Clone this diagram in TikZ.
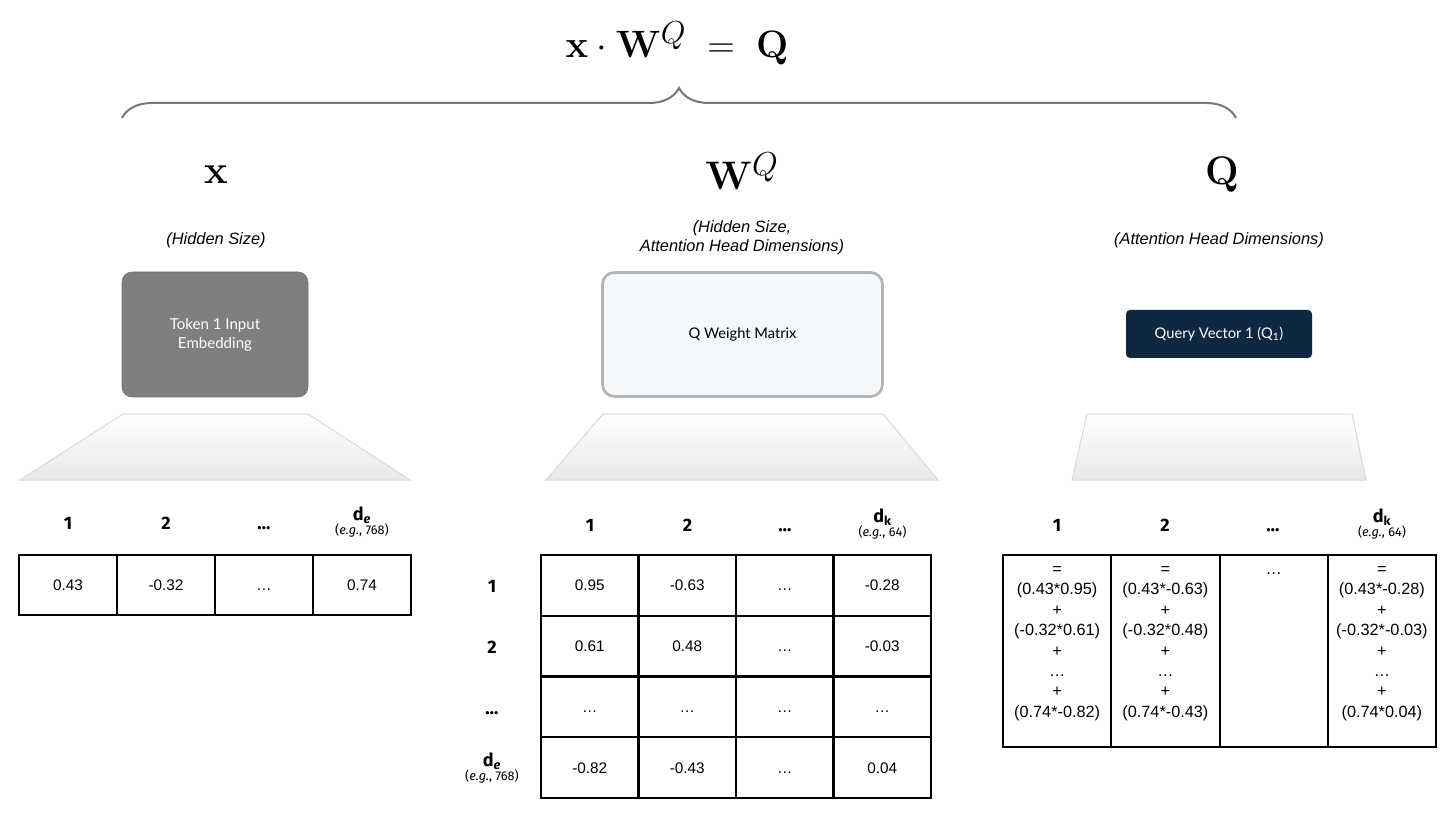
\documentclass[tikz,border=0pt]{standalone}
\usepackage{amsmath}
\usepackage[no-math]{fontspec}
\setmainfont{Liberation Sans}
\newfontfamily\latofont{Lato}
\newfontfamily\headfont{Fira Sans}
\usepackage{tikz}
\usetikzlibrary{positioning, calc, decorations.pathreplacing}
\definecolor{embgray}{HTML}{7F7F7F}
\definecolor{embedge}{HTML}{6F6F6F}
\definecolor{wqfill}{HTML}{F4F9FE}
\definecolor{wqedge}{HTML}{B4B4B4}
\definecolor{qnavy}{HTML}{0E2841}
\definecolor{trapedge}{HTML}{D9D9D9}
\definecolor{trapfill}{HTML}{E8E8E8}
\definecolor{bracegray}{HTML}{777777}
\newcommand{\dehead}{\textbf{d\textsubscript{\itshape e}}\\[-3pt]{\fontsize{9.5}{10}\selectfont(\textit{e.g.}, 768)}}
\newcommand{\dkhead}{\textbf{d\textsubscript{k}}\\[-3pt]{\fontsize{9.5}{10}\selectfont(\textit{e.g.}, 64)}}
\tikzset{
  eqn/.style={font=\Huge, inner sep=0pt},
  symb/.style={font=\Huge, inner sep=0pt},
  dims/.style={font=\fontsize{12.3}{14}\selectfont\itshape, align=center, inner sep=0pt},
  bracepath/.style={draw=bracegray, line width=1.5pt, decorate, decoration={brace, amplitude=22.5pt}},
  embbox/.style={draw=embedge, fill=embgray, rounded corners=7.5pt, minimum width=139.5pt, minimum height=93.75pt, text=white, align=center, font=\latofont\fontsize{11.3}{14.5}\selectfont},
  wqbox/.style={draw=wqedge, line width=2pt, fill=wqfill, rounded corners=9pt, minimum width=210pt, minimum height=93pt, align=center, font=\latofont\fontsize{11}{14}\selectfont},
  qbox/.style={fill=qnavy, rounded corners=3pt, minimum width=139.5pt, minimum height=36pt, text=white, font=\latofont\fontsize{11}{14}\selectfont},
  trap/.style={draw=trapedge, line width=0.75pt, top color=white, bottom color=trapfill},
  valcell/.style={draw, line width=1.5pt, inner sep=0pt, text height=8.2pt, text depth=0pt, font=\fontsize{11.5}{13}\selectfont},
  colhead/.style={font=\headfont\fontsize{13.5}{14}\selectfont, align=center, inner sep=0pt},
  sumtext/.style={font=\fontsize{12.2}{15.3}\selectfont, align=center, inner sep=0pt}
}

\begin{document}
\begin{tikzpicture}[x=0.75pt, y=-0.75pt]
  \useasboundingbox (0,0) rectangle (1456,816);

  % equation and brace
  \node[eqn] (eq) at (677,43) {\scalebox{1.15}{$\mathbf{x}\cdot\mathbf{W}^{Q}\;=\;\mathbf{Q}$}};
  \coordinate (brace-l) at (122,118);
  \coordinate (brace-r) at (1236,118);
  \draw[bracepath] (brace-l) -- (brace-r);

  % symbols and shapes
  \node[symb] (x-sym) at (216,175) {\scalebox{1.2}{$\mathbf{x}$}};
  \node[symb] (w-sym) at (742,171) {\scalebox{1.2}{$\mathbf{W}^{Q}$}};
  \node[symb] (q-sym) at (1222,175) {\scalebox{1.2}{$\mathbf{Q}$}};
  \node[dims] (x-dim) at (216,240) {(Hidden Size)};
  \node[dims] (w-dim) at (742,238) {(Hidden Size,\\Attention Head Dimensions)};
  \node[dims] (q-dim) at (1219,240) {(Attention Head Dimensions)};

  % boxes
  \node[embbox] (emb) at (215,334.5) {Token 1 Input\\Embedding};
  \node[wqbox] (wq) at (742.5,334.5) {Q Weight Matrix};
  \node[qbox] (qv) at (1219,334) {Query Vector 1 (Q\textsubscript{1})};

  % trapezoids
  \path[trap] (123,414) -- (308,414) -- (410,480) -- (20,480) -- cycle;
  \path[trap] (603,414) -- (883,414) -- (938,480) -- (546,480) -- cycle;
  \path[trap] (1087,414) -- (1352,414) -- (1366,480) -- (1072,480) -- cycle;

  % x vector
  \foreach \v [count=\i] in {0.43,-0.32,\ldots,0.74}
    \node[valcell, minimum width=73.5pt, minimum height=45pt] (x-\i) at ({98*\i-30},585) {\v};
  \node[colhead, anchor=base] (xh-1) at (68,529) {\textbf{1}};
  \node[colhead, anchor=base] (xh-2) at (166,529) {\textbf{2}};
  \node[colhead, anchor=base] (xh-3) at (264,529) {\textbf{\ldots}};
  \node[colhead] (xh-4) at (362,522) {\dehead};

  % W^Q matrix
  \foreach \r/\vals in {1/{0.95,-0.63,\ldots,-0.28}, 2/{0.61,0.48,\ldots,-0.03}, 3/{\ldots,\ldots,\ldots,\ldots}, 4/{-0.82,-0.43,\ldots,0.04}}
    \foreach \v [count=\c] in \vals
      \node[valcell, minimum width=73.1pt, minimum height=45.6pt] (w-\r-\c) at ({492.25+97.5*\c},{524.625+60.75*\r}) {\v};
  \node[colhead, anchor=base] (wh-1) at (590,531) {\textbf{1}};
  \node[colhead, anchor=base] (wh-2) at (687.5,531) {\textbf{2}};
  \node[colhead, anchor=base] (wh-3) at (785,531) {\textbf{\ldots}};
  \node[colhead] (wh-4) at (882.5,524) {\dkhead};
  \node[colhead] (wr-1) at (492,586) {\textbf{1}};
  \node[colhead] (wr-2) at (492,647) {\textbf{2}};
  \node[colhead, anchor=base] (wr-3) at (492,714) {\textbf{\ldots}};
  \node[colhead] (wr-4) at (492,768) {\dehead};

  % Q vector
  \foreach \c in {1,...,4}
    \node[valcell, minimum width=81.2pt, minimum height=144pt] (q-\c) at ({948.875+108.25*\c},651) {};
  \node[sumtext, below=4.5pt of q-1.north] (qs-1) {\strut=\\(0.43*0.95)\\+\\(-0.32*0.61)\\+\\\ldots\\+\\(0.74*-0.82)};
  \node[sumtext, below=4.5pt of q-2.north] (qs-2) {\strut=\\(0.43*-0.63)\\+\\(-0.32*0.48)\\+\\\ldots\\+\\(0.74*-0.43)};
  \node[sumtext, below=4.5pt of q-3.north] (qs-3) {\strut\ldots};
  \node[sumtext, below=4.5pt of q-4.north] (qs-4) {\strut=\\(0.43*-0.28)\\+\\(-0.32*-0.03)\\+\\\ldots\\+\\(0.74*0.04)};
  \node[colhead, anchor=base] (qh-1) at (1057,531) {\textbf{1}};
  \node[colhead, anchor=base] (qh-2) at (1165,531) {\textbf{2}};
  \node[colhead, anchor=base] (qh-3) at (1273,531) {\textbf{\ldots}};
  \node[colhead] (qh-4) at (1382,524) {\dkhead};
\end{tikzpicture}
\end{document}
